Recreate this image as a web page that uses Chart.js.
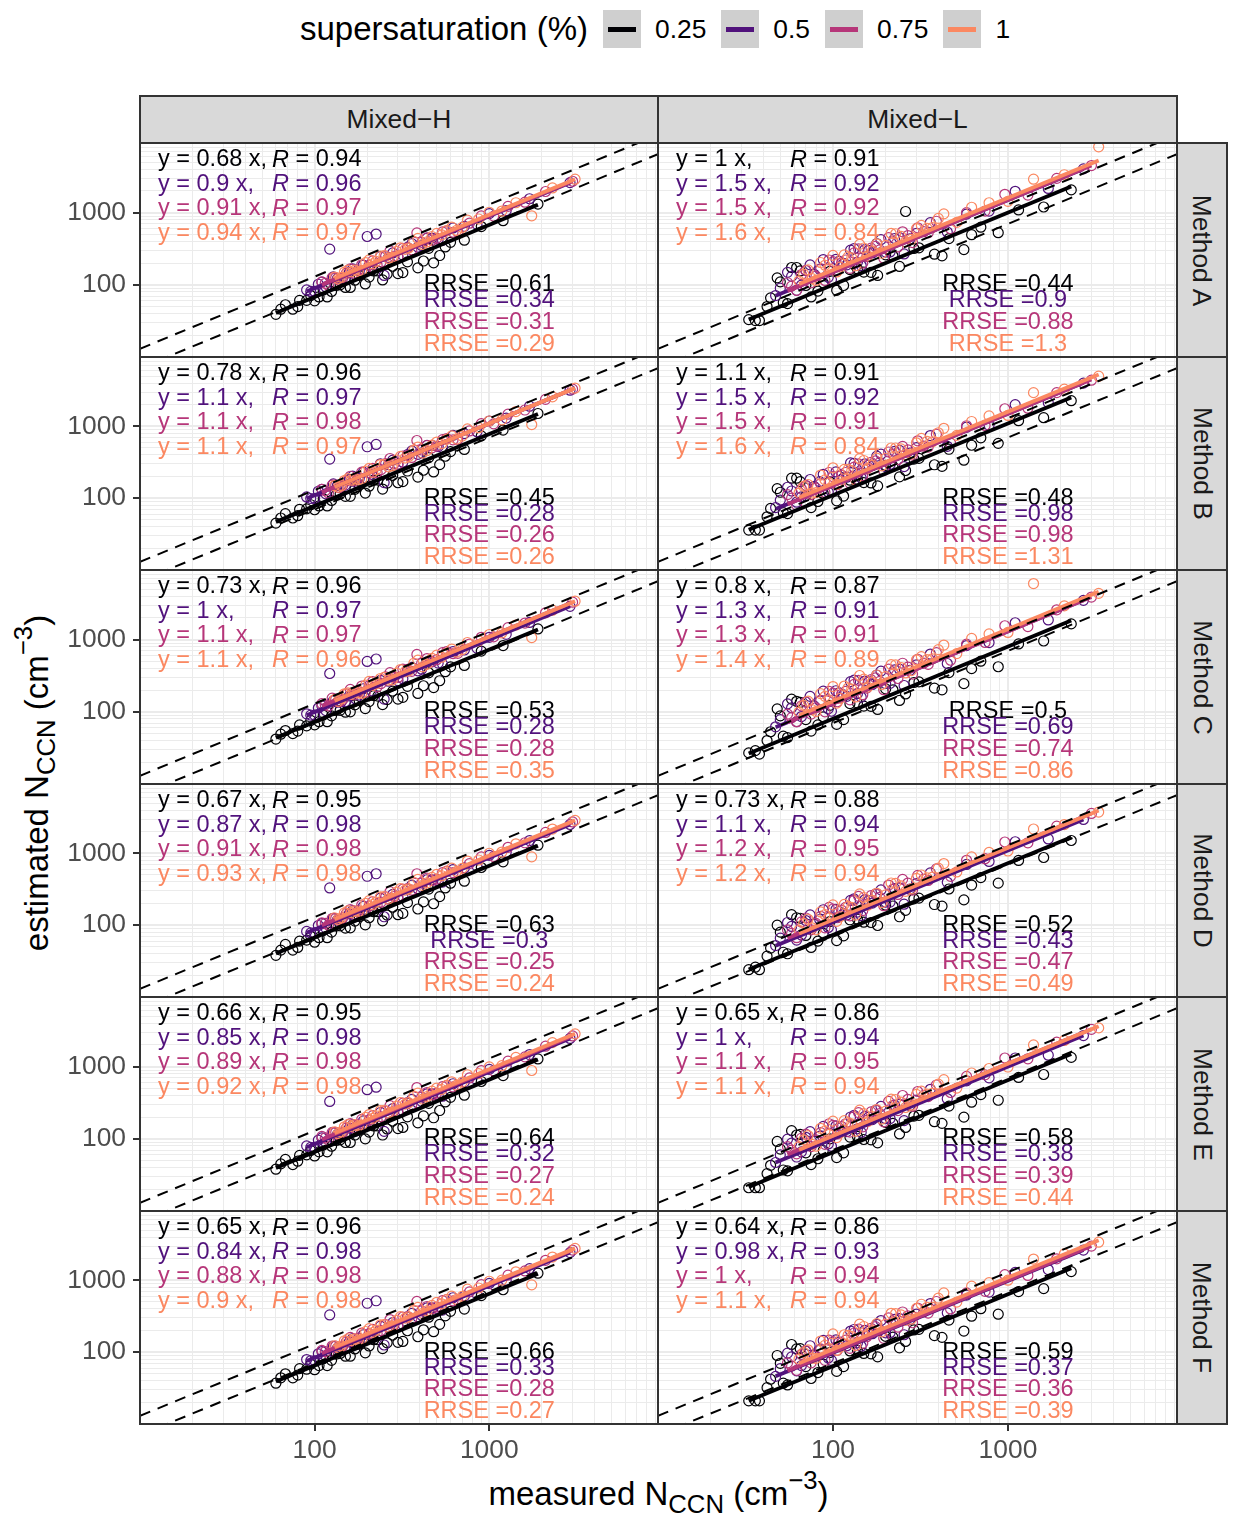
<!DOCTYPE html>
<html>
<head>
<meta charset="utf-8">
<title>CCN closure</title>
<script src="https://cdn.jsdelivr.net/npm/chart.js@4.4.0/dist/chart.umd.min.js"></script>
<style>
  html, body { margin: 0; padding: 0; background: #fff; }
  body { font-family: "Liberation Sans", Arial, Helvetica, sans-serif; color: #000; }
  #page { position: relative; width: 1233px; height: 1515px; overflow: hidden; }
  #page canvas { position: absolute; }
  .strip { position: absolute; box-sizing: border-box; background: #d9d9d9; border: 2px solid #333; color: #1a1a1a; font-size: 26.4px; display: flex; align-items: center; justify-content: center; white-space: nowrap; }
  .strip.side span { display: inline-block; transform: rotate(90deg); }
  #legend { position: absolute; left: 300px; top: 10px; height: 38px; display: flex; align-items: center; white-space: nowrap; }
  #legend .title { font-size: 33px; }
  #legend .key { width: 38px; height: 38px; background: #cfcfcf; margin-left: 15px; position: relative; }
  #legend .key i { position: absolute; left: 5px; right: 5px; top: 16.5px; height: 5px; }
  #legend .lbl { font-size: 26.4px; margin-left: 14px; }
  .axtitle { position: absolute; font-size: 33px; white-space: nowrap; line-height: 1; }
  .axtitle sub { font-size: 0.78em; vertical-align: -0.3em; line-height: 0; }
  .axtitle sup { font-size: 0.78em; vertical-align: 0.62em; line-height: 0; }
  #xtitle { left: 0; width: 1317px; text-align: center; top: 1477px; }
  #ytitle { left: 36px; top: 783px; transform: translate(-50%, -50%) rotate(-90deg); }
</style>
</head>
<body>
<div id="page">
  <div id="legend"><span class="title">supersaturation (%)</span></div>
  <div id="ytitle" class="axtitle">estimated N<sub>CCN</sub> (cm<sup>−3</sup>)</div>
  <div id="xtitle" class="axtitle">measured N<sub>CCN</sub> (cm<sup>−3</sup>)</div>
</div>
<script>
// ---- data ----
const ssLevels = ["0.25", "0.5", "0.75", "1"];
const ssColors = ["#000004", "#51127C", "#B63679", "#FB8861"];
const campaignNames = ["Mixed−H", "Mixed−L"];
const methodNames = ["Method A", "Method B", "Method C", "Method D", "Method E", "Method F"];

const labelBreaks = [100, 1000];
const gridBreaks = [10, 20, 30, 40, 50, 60, 70, 80, 90,
  100, 200, 300, 400, 500, 600, 700, 800, 900,
  1000, 2000, 3000, 4000, 5000, 6000, 7000, 8000, 9000];
const refRatios = [1.3, 0.7];

// measured N_CCN, one row per supersaturation
const measuredH = [
  [60, 68, 75, 82, 90, 100, 112, 125, 140, 160, 180, 205, 230, 260, 300, 340, 390, 450, 520, 600, 720, 900, 1200, 1900,
   64, 80, 95, 106, 118, 133, 150, 170, 195, 218, 245, 280, 320, 420, 480, 560],
  [90, 100, 110, 122, 135, 150, 165, 180, 200, 225, 250, 280, 320, 360, 410, 470, 540, 620, 720, 850, 1000, 1250, 1700, 2900,
   95, 105, 116, 128, 142, 158, 172, 190, 212, 238, 265, 300, 340, 390, 440, 510],
  [110, 120, 132, 145, 160, 178, 195, 215, 240, 270, 300, 340, 385, 440, 500, 570, 660, 770, 900, 1060, 1280, 1600, 2100, 3000,
   115, 126, 138, 152, 168, 186, 205, 228, 255, 285, 320, 360, 410, 470, 540, 620],
  [130, 142, 155, 170, 186, 205, 225, 250, 278, 310, 345, 390, 440, 500, 570, 650, 750, 870, 1000, 1180, 1420, 1750, 2300, 3100,
   136, 148, 162, 178, 196, 215, 238, 264, 295, 330, 370, 415, 470, 535, 610, 700]
];
const measuredL = [
  [33, 38, 44, 48, 52, 58, 65, 75, 88, 105, 125, 150, 180, 220, 260, 310, 380, 460, 560, 700, 880, 1150, 1600, 2300,
   36, 42, 50, 55, 62, 70, 82, 96, 115, 138, 165, 200, 240, 290, 420, 620],
  [47, 55, 62, 70, 78, 88, 98, 108, 120, 132, 145, 160, 178, 200, 225, 255, 300, 360, 450, 580, 780, 1100, 1700, 2700,
   50, 58, 66, 74, 84, 94, 104, 115, 126, 138, 152, 168, 188, 212, 240, 275],
  [55, 62, 70, 80, 90, 100, 112, 125, 140, 156, 175, 195, 220, 250, 285, 330, 390, 470, 580, 740, 960, 1300, 1900, 3000,
   58, 66, 75, 85, 95, 106, 118, 132, 148, 165, 185, 208, 235, 268, 305, 350],
  [64, 72, 80, 90, 100, 110, 122, 135, 150, 168, 190, 215, 245, 280, 320, 370, 430, 510, 620, 780, 1000, 1400, 2100, 3300,
   68, 76, 85, 95, 105, 116, 128, 142, 158, 178, 200, 228, 260, 300, 345, 400]
];

// estimated N_CCN per method (Mixed-H)
const estH_A = [
  [39, 53, 46, 61, 61, 60, 85, 81, 100, 92, 135, 128, 156, 141, 143, 208, 172, 321, 255, 388, 416, 643, 775, 1318,
   46, 50, 71, 68, 68, 98, 92, 116, 103, 156, 117, 181, 148, 214, 202, 335],
  [85, 81, 109, 313, 122, 124, 166, 154, 468, 506, 135, 277, 259, 373, 351, 444, 413, 614, 648, 689, 972, 1069, 1561, 2610,
   81, 102, 94, 129, 124, 149, 136, 188, 176, 246, 239, 243, 330, 333, 444, 427],
  [110, 98, 126, 125, 167, 162, 156, 215, 207, 295, 246, 325, 526, 448, 441, 560, 541, 715, 901, 897, 1223, 1398, 1968, 2730,
   105, 126, 116, 145, 145, 190, 187, 187, 251, 249, 320, 305, 388, 415, 541, 536],
  [128, 127, 160, 160, 157, 222, 212, 254, 240, 326, 324, 440, 393, 517, 563, 568, 790, 818, 1015, 1054, 1375, 905, 2205, 2914,
   121, 150, 152, 154, 203, 196, 251, 233, 291, 310, 400, 363, 468, 493, 631, 625]
];
const estH_B = [
  [45, 61, 53, 70, 71, 69, 98, 93, 115, 106, 155, 147, 179, 162, 164, 239, 197, 368, 293, 445, 477, 738, 889, 1512,
   53, 57, 81, 78, 78, 112, 106, 133, 118, 179, 134, 208, 170, 245, 232, 384],
  [104, 99, 133, 350, 149, 152, 203, 188, 520, 560, 165, 339, 317, 456, 429, 543, 505, 750, 792, 842, 1188, 1306, 1908, 3190,
   99, 125, 115, 158, 152, 182, 166, 230, 215, 301, 292, 297, 403, 407, 543, 522],
  [133, 118, 152, 151, 202, 196, 189, 260, 250, 357, 297, 393, 636, 542, 533, 677, 654, 864, 1089, 1084, 1479, 1690, 2379, 3300,
   127, 152, 140, 175, 175, 230, 226, 226, 303, 301, 387, 369, 469, 502, 654, 648],
  [150, 149, 187, 187, 184, 260, 248, 297, 281, 381, 379, 515, 460, 605, 659, 665, 924, 957, 1188, 1233, 1609, 1060, 2580, 3410,
   142, 176, 178, 180, 238, 229, 294, 273, 340, 363, 468, 425, 548, 577, 738, 731]
];
const estH_C = [
  [42, 55, 50, 66, 64, 66, 90, 88, 105, 100, 143, 139, 165, 148, 150, 226, 180, 348, 270, 420, 440, 695, 830, 1410,
   49, 54, 76, 73, 73, 105, 99, 125, 111, 168, 126, 194, 159, 230, 217, 360],
  [94, 90, 121, 340, 136, 138, 184, 171, 500, 540, 150, 308, 288, 414, 390, 493, 459, 682, 720, 765, 1080, 1188, 1734, 2900,
   90, 113, 104, 143, 138, 166, 151, 209, 196, 273, 266, 270, 367, 370, 493, 474],
  [130, 121, 150, 148, 205, 192, 186, 263, 246, 350, 300, 388, 625, 548, 528, 684, 648, 870, 1080, 1095, 1470, 1702, 2360, 3310,
   125, 155, 138, 178, 172, 228, 230, 222, 306, 298, 390, 365, 472, 498, 660, 642],
  [148, 152, 183, 190, 180, 264, 244, 300, 277, 386, 372, 520, 455, 610, 652, 672, 915, 965, 1180, 1240, 1600, 1070, 2565, 3420,
   140, 178, 175, 183, 235, 232, 290, 276, 344, 360, 472, 420, 552, 572, 742, 728]
];
const estH_D = [
  [38, 54, 45, 60, 62, 58, 84, 80, 98, 92, 132, 127, 154, 138, 140, 206, 168, 318, 250, 384, 410, 636, 762, 1300,
   45, 49, 70, 67, 67, 97, 91, 114, 101, 154, 115, 178, 146, 211, 199, 330],
  [82, 78, 105, 330, 118, 120, 160, 149, 480, 520, 131, 268, 250, 361, 339, 429, 399, 594, 627, 666, 940, 1034, 1510, 2524,
   78, 99, 91, 125, 120, 144, 132, 182, 170, 238, 231, 235, 319, 322, 429, 413],
  [108, 100, 124, 127, 165, 160, 158, 212, 210, 292, 249, 322, 520, 452, 437, 565, 536, 720, 895, 905, 1215, 1405, 1955, 2740,
   106, 124, 117, 146, 143, 191, 185, 189, 249, 251, 318, 307, 386, 418, 538, 539],
  [127, 126, 158, 158, 155, 220, 210, 251, 237, 323, 321, 435, 389, 511, 557, 562, 782, 809, 1004, 1043, 1360, 895, 2182, 2883,
   120, 148, 150, 152, 201, 194, 248, 230, 288, 307, 396, 359, 463, 488, 624, 618]
];
const estH_E = [
  [38, 52, 44, 59, 60, 58, 82, 79, 97, 89, 131, 124, 151, 137, 139, 202, 167, 311, 247, 376, 403, 624, 752, 1280,
   45, 49, 69, 66, 66, 95, 89, 113, 100, 151, 113, 176, 144, 208, 196, 325],
  [80, 76, 103, 330, 115, 117, 157, 145, 480, 520, 127, 262, 245, 352, 331, 419, 390, 580, 612, 650, 918, 1009, 1474, 2464,
   76, 96, 89, 122, 117, 141, 128, 177, 166, 232, 226, 229, 312, 314, 419, 403],
  [108, 96, 123, 122, 163, 158, 153, 210, 202, 288, 241, 318, 514, 438, 431, 548, 529, 699, 881, 877, 1196, 1367, 1925, 2670,
   103, 123, 113, 142, 142, 186, 183, 183, 245, 244, 313, 298, 379, 406, 529, 524],
  [125, 125, 157, 157, 154, 217, 208, 249, 235, 319, 317, 431, 385, 506, 551, 556, 773, 801, 993, 1032, 1346, 886, 2158, 2852,
   118, 147, 149, 151, 199, 192, 246, 228, 285, 303, 392, 355, 458, 483, 618, 612]
];
const estH_F = [
  [37, 50, 44, 59, 58, 57, 81, 77, 96, 88, 129, 122, 149, 135, 137, 199, 164, 307, 244, 371, 398, 615, 741, 1260,
   44, 48, 68, 65, 65, 94, 88, 111, 98, 149, 112, 173, 141, 205, 193, 320],
  [79, 76, 102, 330, 114, 116, 155, 144, 480, 520, 126, 258, 242, 348, 327, 414, 385, 573, 605, 643, 907, 997, 1456, 2435,
   76, 95, 88, 120, 116, 139, 127, 175, 164, 230, 223, 227, 308, 311, 414, 398],
  [106, 95, 122, 121, 161, 157, 151, 208, 200, 285, 238, 314, 509, 433, 426, 542, 523, 691, 871, 867, 1183, 1352, 1903, 2640,
   102, 122, 112, 140, 140, 184, 181, 181, 243, 241, 309, 295, 375, 401, 523, 518],
  [123, 122, 153, 153, 151, 213, 203, 243, 230, 312, 310, 421, 376, 495, 539, 544, 756, 783, 972, 1009, 1316, 866, 2111, 2790,
   116, 144, 145, 147, 194, 188, 240, 223, 278, 297, 383, 347, 448, 472, 604, 598]
];

// estimated N_CCN per method (Mixed-L)
const estL_A = [
  [33, 32, 66, 125, 57, 174, 156, 68, 106, 84, 163, 150, 135, 253, 1040, 326, 266, 437, 308, 630, 528, 1093, 1200, 2070,
   32, 50, 110, 55, 174, 98, 82, 154, 98, 166, 149, 260, 180, 319, 252, 496],
  [71, 149, 84, 158, 140, 224, 118, 211, 189, 317, 185, 300, 374, 285, 439, 268, 518, 729, 540, 957, 1053, 1980, 2168, 4050,
   90, 131, 99, 189, 164, 127, 226, 198, 302, 207, 308, 277, 423, 286, 450, 433],
  [107, 84, 158, 132, 115, 210, 202, 169, 315, 246, 341, 234, 396, 544, 385, 545, 761, 599, 1001, 1055, 1800, 1755, 2993, 4500,
   96, 139, 107, 166, 221, 159, 221, 277, 200, 322, 305, 452, 335, 482, 618, 525],
  [113, 161, 115, 187, 256, 176, 244, 184, 324, 296, 274, 516, 470, 426, 666, 622, 963, 734, 1190, 1373, 1440, 2912, 3360, 8200,
   141, 122, 204, 167, 151, 260, 236, 364, 253, 370, 352, 511, 395, 600, 607, 832]
];
const estL_B = [
  [36, 36, 72, 136, 63, 190, 170, 74, 116, 92, 178, 165, 148, 278, 243, 358, 292, 480, 338, 693, 580, 1200, 1320, 2277,
   36, 55, 121, 61, 190, 108, 90, 169, 107, 182, 163, 286, 198, 351, 277, 546],
  [74, 142, 88, 150, 146, 215, 124, 203, 196, 305, 192, 290, 385, 276, 450, 276, 505, 745, 528, 975, 1035, 2010, 2140, 4000,
   94, 126, 104, 182, 170, 122, 232, 192, 310, 214, 300, 284, 410, 295, 462, 425],
  [112, 80, 150, 138, 120, 200, 210, 162, 300, 255, 330, 242, 410, 525, 398, 530, 780, 585, 1020, 1030, 1760, 1790, 2950, 4400,
   100, 134, 112, 160, 228, 154, 228, 270, 206, 315, 312, 440, 345, 470, 630, 515],
  [118, 155, 120, 180, 265, 170, 252, 178, 335, 288, 282, 500, 485, 415, 680, 610, 940, 750, 1170, 1400, 1420, 2950, 3300, 5000,
   146, 118, 210, 162, 156, 252, 242, 355, 260, 362, 360, 500, 405, 590, 620, 815]
];
const estL_C = [
  [27, 26, 53, 110, 46, 150, 135, 54, 85, 67, 130, 120, 108, 202, 177, 260, 213, 350, 246, 504, 422, 874, 960, 1656,
   29, 40, 88, 44, 140, 78, 66, 123, 78, 132, 119, 208, 144, 255, 202, 397],
  [62, 129, 73, 137, 121, 194, 102, 183, 164, 275, 160, 260, 324, 247, 381, 232, 449, 632, 468, 830, 913, 1717, 1880, 3511,
   78, 114, 86, 164, 142, 110, 196, 172, 262, 179, 267, 240, 367, 248, 390, 375],
  [93, 73, 137, 114, 100, 182, 175, 147, 273, 213, 296, 203, 343, 472, 334, 473, 660, 519, 868, 915, 1561, 1522, 2595, 3900,
   83, 121, 93, 144, 192, 138, 192, 240, 173, 279, 264, 392, 290, 418, 536, 455],
  [99, 141, 101, 164, 224, 154, 214, 161, 284, 259, 240, 452, 411, 373, 583, 544, 843, 642, 1041, 1201, 1260, 6000, 2940, 4390,
   123, 107, 179, 146, 132, 228, 207, 319, 221, 324, 308, 447, 346, 525, 531, 728]
];
const estL_D = [
  [24, 24, 48, 100, 42, 140, 125, 49, 77, 61, 119, 110, 99, 185, 161, 238, 194, 319, 225, 460, 385, 798, 876, 1511,
   26, 37, 80, 40, 127, 72, 60, 112, 71, 121, 109, 190, 131, 233, 184, 362],
  [52, 109, 62, 116, 103, 164, 86, 155, 139, 232, 136, 220, 274, 209, 322, 196, 380, 534, 396, 701, 772, 1451, 1589, 2970,
   66, 96, 73, 139, 120, 93, 166, 145, 221, 152, 226, 203, 310, 210, 330, 317],
  [86, 67, 126, 106, 92, 168, 162, 135, 252, 197, 273, 187, 317, 435, 308, 436, 609, 479, 801, 844, 1440, 1404, 2394, 3600,
   77, 111, 86, 133, 177, 127, 177, 222, 160, 258, 244, 362, 268, 386, 494, 420],
  [85, 121, 86, 140, 192, 132, 183, 138, 243, 222, 206, 387, 353, 320, 500, 467, 722, 551, 893, 1030, 1080, 2184, 2520, 3762,
   106, 92, 153, 125, 113, 195, 177, 273, 190, 278, 264, 383, 296, 450, 455, 624]
];
const estL_E = [
  [21, 21, 43, 92, 37, 130, 115, 44, 69, 55, 106, 98, 88, 164, 144, 212, 173, 284, 200, 410, 343, 710, 780, 1346,
   21, 33, 72, 36, 113, 64, 53, 100, 64, 108, 97, 169, 117, 207, 164, 322],
  [47, 99, 56, 105, 93, 149, 79, 141, 126, 211, 123, 200, 249, 190, 293, 179, 345, 486, 360, 638, 702, 1320, 1445, 2700,
   60, 87, 66, 126, 109, 85, 151, 132, 201, 138, 205, 185, 282, 191, 300, 289],
  [78, 62, 116, 97, 84, 154, 148, 124, 231, 180, 250, 172, 290, 399, 282, 400, 558, 439, 734, 773, 1320, 1287, 2194, 3300,
   70, 102, 78, 122, 162, 117, 162, 203, 147, 236, 224, 331, 246, 353, 453, 385],
  [78, 111, 79, 129, 176, 121, 168, 127, 223, 204, 188, 355, 323, 293, 458, 428, 662, 505, 818, 944, 990, 2002, 2310, 3449,
   97, 84, 140, 115, 104, 179, 162, 250, 174, 254, 242, 351, 272, 413, 417, 572]
];
const estL_F = [
  [21, 21, 42, 90, 37, 128, 112, 43, 68, 54, 104, 96, 86, 162, 141, 208, 170, 280, 197, 403, 338, 699, 768, 1325,
   21, 32, 70, 35, 111, 63, 52, 99, 63, 106, 95, 166, 115, 204, 161, 317],
  [46, 97, 55, 103, 91, 146, 77, 138, 123, 207, 121, 196, 244, 186, 287, 175, 338, 476, 353, 625, 688, 1293, 1416, 2645,
   59, 86, 65, 123, 107, 83, 148, 129, 197, 135, 201, 181, 276, 187, 294, 283],
  [71, 56, 105, 88, 77, 140, 135, 113, 210, 164, 227, 156, 264, 363, 257, 364, 508, 400, 668, 704, 1200, 1171, 1996, 3000,
   64, 93, 71, 111, 147, 106, 147, 185, 133, 215, 203, 301, 223, 321, 412, 350],
  [80, 108, 82, 125, 180, 118, 172, 124, 228, 200, 192, 348, 330, 288, 465, 420, 670, 498, 830, 930, 1005, 1980, 2340, 3400,
   99, 82, 143, 112, 106, 175, 165, 246, 178, 250, 246, 345, 277, 408, 422, 565]
];

// fit results, rows = methods A..F, columns = supersaturation
const slopesH = [[0.68, 0.9, 0.91, 0.94], [0.78, 1.1, 1.1, 1.1], [0.73, 1, 1.1, 1.1],
  [0.67, 0.87, 0.91, 0.93], [0.66, 0.85, 0.89, 0.92], [0.65, 0.84, 0.88, 0.9]];
const corrH = [[0.94, 0.96, 0.97, 0.97], [0.96, 0.97, 0.98, 0.97], [0.96, 0.97, 0.97, 0.96],
  [0.95, 0.98, 0.98, 0.98], [0.95, 0.98, 0.98, 0.98], [0.96, 0.98, 0.98, 0.98]];
const rrseH = [[0.61, 0.34, 0.31, 0.29], [0.45, 0.28, 0.26, 0.26], [0.53, 0.28, 0.28, 0.35],
  [0.63, 0.3, 0.25, 0.24], [0.64, 0.32, 0.27, 0.24], [0.66, 0.33, 0.28, 0.27]];
const slopesL = [[1, 1.5, 1.5, 1.6], [1.1, 1.5, 1.5, 1.6], [0.8, 1.3, 1.3, 1.4],
  [0.73, 1.1, 1.2, 1.2], [0.65, 1, 1.1, 1.1], [0.64, 0.98, 1, 1.1]];
const corrL = [[0.91, 0.92, 0.92, 0.84], [0.91, 0.92, 0.91, 0.84], [0.87, 0.91, 0.91, 0.89],
  [0.88, 0.94, 0.95, 0.94], [0.86, 0.94, 0.95, 0.94], [0.86, 0.93, 0.94, 0.94]];
const rrseL = [[0.44, 0.9, 0.88, 1.3], [0.48, 0.98, 0.98, 1.31], [0.5, 0.69, 0.74, 0.86],
  [0.52, 0.43, 0.47, 0.49], [0.58, 0.38, 0.39, 0.44], [0.59, 0.37, 0.36, 0.39]];

// where the RRSE labels sit, in data units
const rrseAnchorX = 1000;
const rrseAnchorY = [100, 60, 30, 15];

// ---- layout ----
const AXIS_MIN = 10, AXIS_MAX = 9250;
const PANEL_LEFT = [140, 658];
const PANEL_W = [518, 519];
const PANEL_TOP = 143, ROW_H = 213.5;
const AX_W = 90, AX_H = 50;
const FONT = '"Liberation Sans", Arial, Helvetica, sans-serif';

const campaigns = [
  { measured: measuredH, est: [estH_A, estH_B, estH_C, estH_D, estH_E, estH_F], slopes: slopesH, corr: corrH, rrse: rrseH },
  { measured: measuredL, est: [estL_A, estL_B, estL_C, estL_D, estL_E, estL_F], slopes: slopesL, corr: corrL, rrse: rrseL }
];

const page = document.getElementById('page');
const rowTop = r => Math.round(PANEL_TOP + r * ROW_H);

// legend
const legend = document.getElementById('legend');
ssLevels.forEach((lvl, i) => {
  const key = document.createElement('span');
  key.className = 'key';
  const line = document.createElement('i');
  line.style.background = ssColors[i];
  key.appendChild(line);
  const lbl = document.createElement('span');
  lbl.className = 'lbl';
  lbl.textContent = lvl;
  legend.appendChild(key);
  legend.appendChild(lbl);
});

// facet strips
campaignNames.forEach((name, col) => {
  const s = document.createElement('div');
  s.className = 'strip';
  s.style.left = (PANEL_LEFT[col] - 1) + 'px';
  s.style.width = (PANEL_W[col] + 2) + 'px';
  s.style.top = '95px';
  s.style.height = (PANEL_TOP - 95 + 1) + 'px';
  s.textContent = name;
  page.appendChild(s);
});
methodNames.forEach((name, row) => {
  const s = document.createElement('div');
  s.className = 'strip side';
  s.style.left = (PANEL_LEFT[1] + PANEL_W[1] - 1) + 'px';
  s.style.width = '52px';
  s.style.top = (rowTop(row) - 1) + 'px';
  s.style.height = (rowTop(row + 1) - rowTop(row) + 2) + 'px';
  const t = document.createElement('span');
  t.textContent = name;
  s.appendChild(t);
  page.appendChild(s);
});

const isMajor = c => c.tick && labelBreaks.includes(c.tick.value);

function axisOpts(showLabels, isX) {
  return {
    type: 'logarithmic',
    min: AXIS_MIN,
    max: AXIS_MAX,
    bounds: 'data',
    afterBuildTicks: s => { s.ticks = gridBreaks.map(v => ({ value: v })); },
    afterFit: s => {
      if (isX) s.height = AX_H; else s.width = AX_W;
      s.paddingTop = s.paddingBottom = s.paddingLeft = s.paddingRight = 0;
    },
    ticks: {
      display: showLabels,
      autoSkip: false,
      maxRotation: 0,
      minRotation: 0,
      padding: isX ? 4 : 7,
      color: '#4d4d4d',
      font: { family: FONT, size: 26.4 },
      callback: v => labelBreaks.includes(v) ? String(v) : ''
    },
    grid: {
      color: '#ebebeb',
      lineWidth: c => isMajor(c) ? 2 : 1,
      drawTicks: showLabels,
      tickLength: 7,
      tickWidth: 2,
      tickColor: c => isMajor(c) ? '#333333' : 'rgba(0,0,0,0)'
    },
    border: { display: false }
  };
}

// equations, RRSE labels and the panel frame
const panelText = {
  id: 'panelText',
  afterDatasetsDraw(chart, args, opts) {
    const { ctx, chartArea: a, scales } = chart;
    const font = '23.5px ' + FONT;
    ctx.save();
    ctx.textBaseline = 'middle';
    opts.slopes.forEach((s, i) => {
      const y = a.top + 17 + i * 24.5;
      ctx.fillStyle = ssColors[i];
      ctx.textAlign = 'left';
      ctx.font = font;
      ctx.fillText('y = ' + s + ' x,', a.left + 18, y);
      ctx.font = 'italic ' + font;
      ctx.fillText('R', a.left + 132, y);
      const rw = ctx.measureText('R').width;
      ctx.font = font;
      ctx.fillText(' = ' + opts.corr[i], a.left + 132 + rw, y);
    });
    ctx.textAlign = 'center';
    ctx.font = font;
    const xr = scales.x.getPixelForValue(rrseAnchorX);
    opts.rrse.forEach((v, i) => {
      ctx.fillStyle = ssColors[i];
      ctx.fillText('RRSE =' + v, xr, scales.y.getPixelForValue(rrseAnchorY[i]));
    });
    ctx.restore();
  },
  afterDraw(chart) {
    const { ctx, chartArea: a } = chart;
    ctx.save();
    ctx.strokeStyle = '#333333';
    ctx.lineWidth = 2;
    ctx.strokeRect(a.left, a.top, a.right - a.left, a.bottom - a.top);
    ctx.restore();
  }
};

function buildPanel(col, row) {
  const c = campaigns[col];
  const est = c.est[row];
  const slopes = c.slopes[row];
  const top = rowTop(row);
  const h = rowTop(row + 1) - top;

  const canvas = document.createElement('canvas');
  canvas.width = AX_W + PANEL_W[col];
  canvas.height = h + AX_H;
  canvas.style.left = (PANEL_LEFT[col] - AX_W) + 'px';
  canvas.style.top = top + 'px';
  page.appendChild(canvas);

  const datasets = [];
  refRatios.forEach(k => {
    datasets.push({
      data: [{ x: AXIS_MIN, y: AXIS_MIN * k }, { x: AXIS_MAX, y: AXIS_MAX * k }],
      showLine: true, borderColor: '#000', borderWidth: 2, borderDash: [11, 8],
      pointRadius: 0, order: 0, clip: 0
    });
  });
  ssLevels.forEach((lvl, i) => {
    const xs = c.measured[i];
    const x0 = Math.min(...xs), x1 = Math.max(...xs);
    datasets.push({
      data: [{ x: x0, y: slopes[i] * x0 }, { x: x1, y: slopes[i] * x1 }],
      showLine: true, borderColor: ssColors[i], borderWidth: 3.8,
      pointRadius: 0, order: 4 - i, clip: 0
    });
    datasets.push({
      data: xs.map((x, j) => ({ x: x, y: est[i][j] })),
      showLine: false, pointRadius: 5, pointBorderWidth: 1.2,
      pointBorderColor: ssColors[i], pointBackgroundColor: 'rgba(0,0,0,0)',
      borderColor: ssColors[i], order: 8 - i, clip: 0
    });
  });

  new Chart(canvas, {
    type: 'scatter',
    data: { datasets: datasets },
    options: {
      responsive: false,
      animation: false,
      devicePixelRatio: 1,
      events: [],
      layout: { padding: 0, autoPadding: false },
      plugins: {
        legend: { display: false },
        tooltip: { enabled: false },
        panelText: { slopes: slopes, corr: c.corr[row], rrse: c.rrse[row] }
      },
      scales: {
        x: axisOpts(row === methodNames.length - 1, true),
        y: axisOpts(col === 0, false)
      }
    },
    plugins: [panelText]
  });
}

for (let row = 0; row < methodNames.length; row++) {
  for (let col = 0; col < campaigns.length; col++) buildPanel(col, row);
}
</script>
</body>
</html>
